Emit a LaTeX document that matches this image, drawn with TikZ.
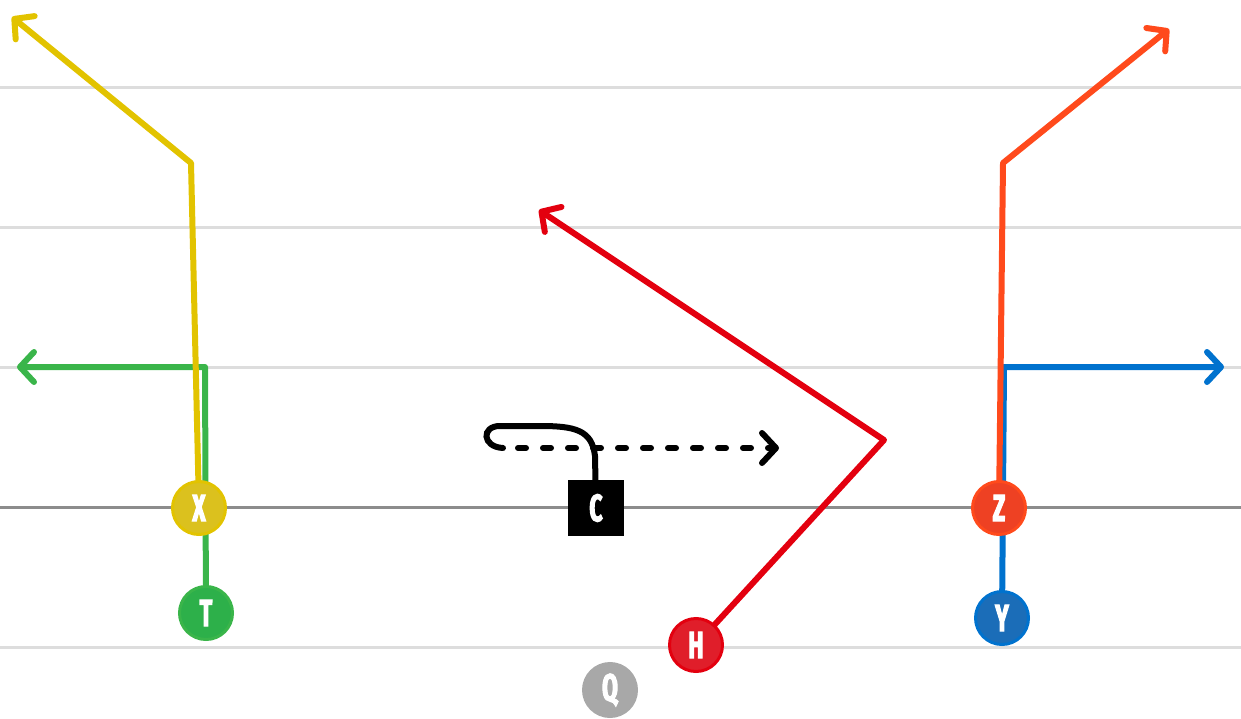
\documentclass[tikz,border=0pt]{standalone}
\usepackage{fontspec}
\newfontfamily\cond{Fira Sans}[FakeStretch=0.6,FakeBold=3]
\usetikzlibrary{arrows.meta,backgrounds}
\definecolor{fieldline}{HTML}{DDDDDD}
\definecolor{losline}{HTML}{8C8C8C}
\definecolor{ylw}{HTML}{E2C300}
\definecolor{ylwfill}{HTML}{DBC11E}
\definecolor{grn}{HTML}{3AB54A}
\definecolor{grnfill}{HTML}{2DB04A}
\definecolor{org}{HTML}{FF4A1C}
\definecolor{orgfill}{HTML}{EE4123}
\definecolor{blu}{HTML}{0072CE}
\definecolor{blufill}{HTML}{1B6DB8}
\definecolor{rd}{HTML}{E3000F}
\definecolor{rdfill}{HTML}{E01E2A}
\definecolor{qgray}{HTML}{A8A8A8}
\tikzset{
  player/.style={circle, minimum size=53pt, inner sep=0pt, line width=3pt, text=white,
    font=\cond\bfseries\fontsize{38}{38}\selectfont},
  route/.style={line width=6pt, line join=round, line cap=round,
    -{Straight Barb[length=14pt,width=30pt,round]}},
  field/.style={line width=3pt, fieldline},
}
\begin{document}
\begin{tikzpicture}[x=1pt,y=-1pt]
\useasboundingbox (0,0) rectangle (1241,719);
% players
\node[player, fill=ylwfill, draw=ylw] (X) at (199,508) {X};
\node[player, fill=grnfill, draw=grn] (T) at (206,613) {T};
\node[player, fill=orgfill, draw=org] (Z) at (999,508) {Z};
\node[player, fill=blufill, draw=blu] (Y) at (1002,618) {Y};
\node[player, fill=rdfill, draw=rd] (H) at (696,645) {H};
\node[player, fill=qgray, draw=qgray] (Q) at (610,690) {Q};
\node[rectangle, fill=black, minimum size=56pt, inner sep=0pt, text=white,
  font=\cond\bfseries\fontsize{38}{38}\selectfont] (C) at (596,508) {C};
% route turn points and ends
\coordinate (xb) at (191,163); \coordinate (xe) at (12,17);
\coordinate (tb) at (205,367); \coordinate (te) at (17,367);
\coordinate (zb) at (1003,163); \coordinate (ze) at (1169,29);
\coordinate (yb) at (1004,367); \coordinate (ye) at (1224,367);
\coordinate (hb) at (884,440); \coordinate (he) at (539,210);
\coordinate (c1) at (595,456); \coordinate (c2) at (540,426);
\coordinate (c3) at (500,426); \coordinate (c4) at (503,448);
\coordinate (ce) at (779,448);
\begin{pgfonlayer}{background}
\draw[field] (0,88) -- (1241,88);
\draw[field] (0,228) -- (1241,228);
\draw[field] (0,367) -- (1241,367);
\draw[field] (0,647) -- (1241,647);
\draw[line width=3pt, losline] (0,507) -- (1241,507);
\draw[route, grn] (T.center) -- (tb) -- (te);
\draw[route, ylw] (X.center) -- (xb) -- (xe);
\draw[route, blu] (Y.center) -- (yb) -- (ye);
\draw[route, org] (Z.center) -- (zb) -- (ze);
\draw[route, rd] (H.center) -- (hb) -- (he);
\draw[line width=6pt, line cap=round, black] (C.center) -- (c1)
  .. controls (592,430) and (575,426) .. (c2) -- (c3)
  .. controls (481,426) and (482,447) .. (c4);
\draw[route, black, dash pattern=on 8pt off 17pt] (c4) ++(15,0) -- (ce);
\end{pgfonlayer}
\end{tikzpicture}
\end{document}
